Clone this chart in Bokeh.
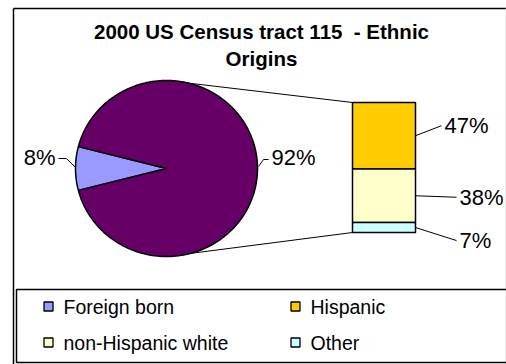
import numpy as np
from bokeh.plotting import figure
from bokeh.models import Range1d
from bokeh.core.properties import value
from bokeh.embed import file_html
from bokeh.resources import INLINE

# ---------------- data ----------------
title_lines = ["2000 US Census tract 115\u00a0\u00a0- Ethnic", "Origins"]
pie_labels = ["Foreign born", "Native born"]
pie_values = [8, 92]
pie_colors = ["#9999FF", "#660066"]
bar_labels = ["Hispanic", "non-Hispanic white", "Other"]
bar_values = [47, 38, 7]
bar_colors = ["#FFCC00", "#FFFFCC", "#CCFFFF"]
legend_labels = ["Foreign born", "Hispanic", "non-Hispanic white", "Other"]
legend_colors = ["#9999FF", "#FFCC00", "#FFFFCC", "#CCFFFF"]

FONT = value("Liberation Sans")
W, H = 506, 364

p = figure(width=W, height=H, x_range=Range1d(0, W), y_range=Range1d(H, 0),
           output_backend="svg", toolbar_location=None, min_border=0,
           x_axis_location=None, y_axis_location=None)
p.grid.visible = False
p.outline_line_color = None
p.background_fill_color = "white"
p.border_fill_color = "white"

# ---------------- chart frame ----------------
p.line(x=[13, 13], y=[8, 420], line_color="black", line_width=1.5)
p.line(x=[13, 560], y=[8, 8], line_color="black", line_width=1.5)
p.line(x=[505.5, 505.5], y=[8, 420], line_color="#D8D8D8", line_width=1)

# ---------------- title ----------------
p.text(x=[261, 261], y=[31, 58], text=title_lines, text_font=FONT,
       text_font_size="20.5px", text_font_style="bold", text_align="center",
       text_baseline="middle", text_color="black")

# ---------------- pie ----------------
cx, cy, rx, ry = 166, 168, 91, 88
total = sum(pie_values)
span0 = pie_values[0] / total * 2 * np.pi
starts = [np.pi - span0 / 2, np.pi + span0 / 2]
ends = [np.pi + span0 / 2, np.pi - span0 / 2 + 2 * np.pi]
xs, ys, mids = [], [], []
for a0, a1 in zip(starts, ends):
    t = np.linspace(a0, a1, 200)
    xs.append(list(np.concatenate([[cx], cx + rx * np.cos(t), [cx]])))
    ys.append(list(np.concatenate([[cy], cy - ry * np.sin(t), [cy]])))
    mids.append((a0 + a1) / 2)

# ---------------- bar of pie ----------------
bx0, bx1, btop, bh = 352, 415, 102, 130
scale = bh / sum(bar_values)
tops, bottoms = [], []
cur = btop
for v in bar_values:
    tops.append(cur)
    cur = cur + v * scale
    bottoms.append(cur)

# connector lines
p.line(x=[cx, bx0], y=[cy - ry, btop], line_color="black", line_width=1)
p.line(x=[cx, bx0], y=[cy + ry, bottoms[-1]], line_color="black", line_width=1)

p.patches(xs=xs, ys=ys, fill_color=pie_colors, line_color="black", line_width=1.5)

p.quad(left=[bx0] * 3, right=[bx1] * 3, top=tops, bottom=bottoms,
       fill_color=bar_colors, line_color="black", line_width=1.5)

# ---------------- data labels ----------------
pie_txt = [f"{v}%" for v in pie_values]
ex0 = cx + rx * np.cos(mids[0]); ey0 = cy - ry * np.sin(mids[0])
ex1 = cx + rx * np.cos(mids[1] - 2 * np.pi); ey1 = cy - ry * np.sin(mids[1] - 2 * np.pi)
p.multi_line(xs=[[ex0, ex0 - 9, ex0 - 17], [ex1 + 1, ex1 + 6, ex1 + 11]],
             ys=[[ey0 - 1, ey0 - 10, ey0 - 10], [ey1 - 2, ey1 - 9, ey1 - 9]],
             line_color="black", line_width=1)
p.text(x=[ex0 - 20], y=[ey0 - 11], text=[pie_txt[0]], text_font=FONT,
       text_font_size="22px", text_align="right", text_baseline="middle")
p.text(x=[ex1 + 14], y=[ey1 - 11], text=[pie_txt[1]], text_font=FONT,
       text_font_size="22px", text_align="left", text_baseline="middle")

bar_txt = [f"{v}%" for v in bar_values]
bmids = [(t + b) / 2 for t, b in zip(tops, bottoms)]
lab_y = [bmids[0] - 10, bmids[1] + 1.5, bmids[2] + 13]
lab_x = [444, 459, 459]
p.multi_line(xs=[[bx1, lx - 3] for lx in lab_x],
             ys=[[m, ly] for m, ly in zip(bmids, lab_y)],
             line_color="black", line_width=1)
p.text(x=lab_x, y=lab_y, text=bar_txt, text_font=FONT, text_font_size="22px",
       text_align="left", text_baseline="middle")

# ---------------- legend ----------------
p.quad(left=[16], right=[560], top=[289], bottom=[362], fill_color=None,
       line_color="black", line_width=1.5)
leg_x = [48, 295, 48, 295]
leg_y = [306, 306, 342, 342]
p.rect(x=leg_x, y=leg_y, width=9, height=9, fill_color=legend_colors,
       line_color="black", line_width=1.3)
p.text(x=[lx + 15 for lx in leg_x], y=leg_y, text=legend_labels, text_font=FONT,
       text_font_size="19.5px", text_align="left", text_baseline="middle")

open("out.html", "w").write(file_html(p, INLINE))
